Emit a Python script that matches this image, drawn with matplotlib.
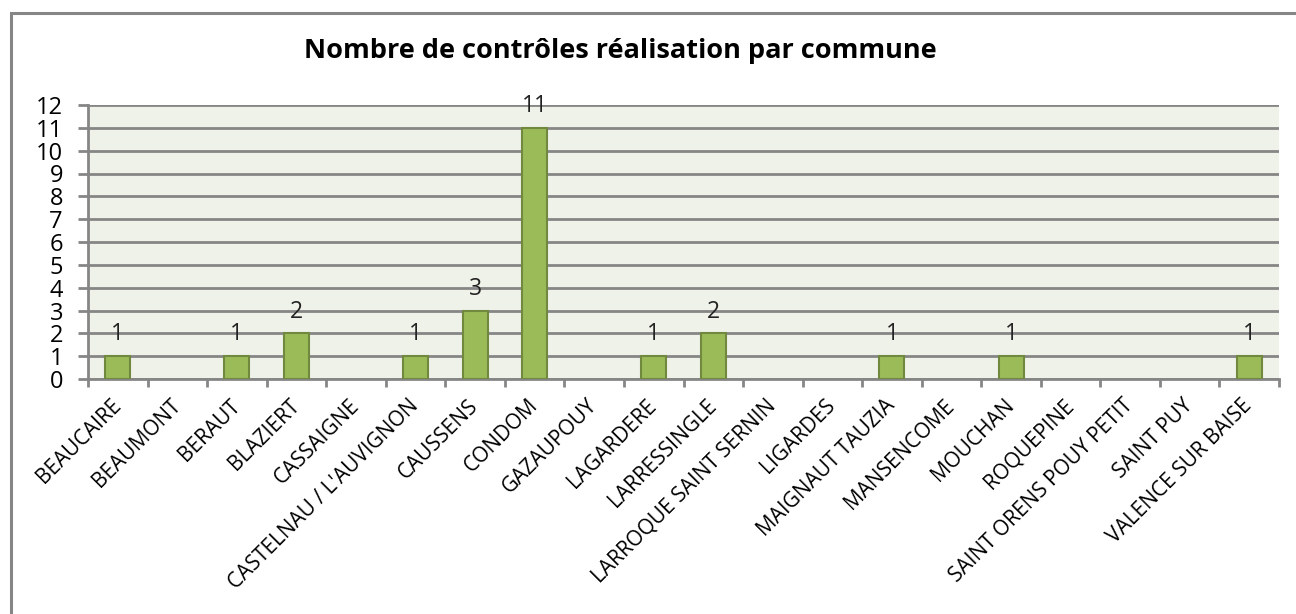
import matplotlib
matplotlib.use("Agg")
import matplotlib.pyplot as plt
from matplotlib.patches import Rectangle

communes = [
    "BEAUCAIRE", "BEAUMONT", "BERAUT", "BLAZIERT", "CASSAIGNE",
    "CASTELNAU / L'AUVIGNON", "CAUSSENS", "CONDOM", "GAZAUPOUY", "LAGARDERE",
    "LARRESSINGLE", "LARROQUE SAINT SERNIN", "LIGARDES", "MAIGNAUT TAUZIA",
    "MANSENCOME", "MOUCHAN", "ROQUEPINE", "SAINT ORENS POUY PETIT",
    "SAINT PUY", "VALENCE SUR BAISE",
]
controles = [1, 0, 1, 2, 0, 1, 3, 11, 0, 1, 2, 0, 0, 1, 0, 1, 0, 0, 0, 1]
y_ticks = list(range(0, 13))
title = "Nombre de contrôles réalisation par commune"

plt.rcParams['font.family'] = ['Open Sans', 'DejaVu Sans']

fig = plt.figure(figsize=(12.96, 6.14), dpi=100)
ax = fig.add_axes([88 / 1296, 1 - 379 / 614, (1279 - 88) / 1296, (379 - 105) / 614])

# outer chart frame (cropped on right and bottom)
fig.patches.append(Rectangle((11 / 1296, -0.05), 1.1, 1 - 13 / 614 + 0.05,
                             transform=fig.transFigure, fill=False,
                             edgecolor="#868686", linewidth=2.2, zorder=0))

x = list(range(len(communes)))
ax.set_facecolor("#EFF2E9")
bars = ax.bar(x, controles, width=0.42, color="#9BBB59", edgecolor="#71893F",
              linewidth=1.5, zorder=3)

for b, xi, v in zip(bars, x, controles):
    if v > 0:
        ax.annotate(str(v), (xi, v), xytext=(0, 7), textcoords="offset points",
                    ha="center", va="bottom", fontsize=16.5, color="#222222")
    else:
        b.set_visible(False)

ax.set_xlim(-0.5, len(communes) - 0.5)
ax.set_ylim(0, 12)
ax.set_yticks(y_ticks)
ax.set_yticklabels([str(t) for t in y_ticks], fontsize=17)
ax.yaxis.grid(True, color="#868686", linewidth=2, zorder=1)
ax.set_axisbelow(True)

ax.set_xticks(x)
ax.set_xticklabels(communes, rotation=45, ha="right", va="center",
                   rotation_mode="anchor", fontsize=15)
ax.set_xticks([i + 0.5 for i in range(-1, len(communes))], minor=True)
ax.tick_params(axis="x", which="major", length=0, pad=17)
ax.tick_params(axis="x", which="minor", length=6, width=2, color="#868686")
ax.tick_params(axis="y", length=7, width=2, color="#868686", pad=11)

for side in ["top", "right"]:
    ax.spines[side].set_visible(False)
for side in ["left", "bottom"]:
    ax.spines[side].set_color("#868686")
    ax.spines[side].set_linewidth(2)

fig.text(620 / 1296, 1 - 51 / 614, title, ha="center", va="center",
         fontsize=19.5, fontweight="bold")

fig.savefig("out.png", dpi=100)
